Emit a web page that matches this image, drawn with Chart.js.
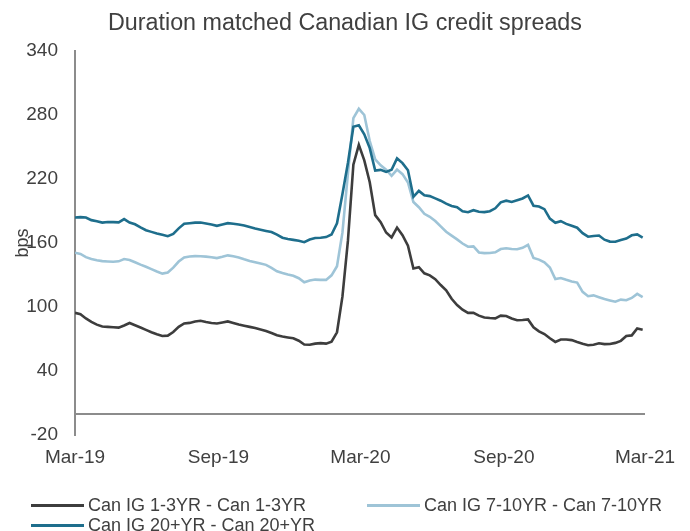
<!DOCTYPE html>
<html>
<head>
<meta charset="utf-8">
<script src="https://cdn.jsdelivr.net/npm/chart.js@4.4.1/dist/chart.umd.min.js"></script>
<style>
  html, body { margin: 0; padding: 0; background: #ffffff; }
  #wrap { position: relative; width: 690px; height: 531px; overflow: hidden; }
  #chart { position: absolute; left: 0; top: 0; }
  .leg { position: absolute; display: flex; align-items: center; font-family: "Liberation Sans", Arial, sans-serif; font-size: 18px; color: #404040; white-space: nowrap; line-height: 20px; }
  .leg .sw { display: inline-block; width: 53px; height: 3px; margin-right: 4px; }
</style>
</head>
<body>
<div id="wrap">
  <canvas id="chart" width="690" height="531"></canvas>
</div>
<script>
// ---- data (weekly observations starting Mar-2019) ----
const seriesNames = [
  "Can IG 1-3YR - Can 1-3YR",
  "Can IG 7-10YR - Can 7-10YR",
  "Can IG 20+YR - Can 20+YR"
];
const seriesColors = ["#3d3d3d", "#9ec4d7", "#1e6e8c"];

const short13 = [94.6,93.3,89.4,86.2,83.6,81.9,81.5,81.2,80.8,82.8,
  85.1,83,80.9,78.7,76.5,74.6,72.9,73.3,76.7,81.5,
  84.7,85.2,86.5,87.2,86,85.1,84.7,85.6,86.6,85.2,
  83.8,82.6,81.5,80.4,79.1,77.7,75.7,73.6,72.5,71.6,
  70.8,68.5,65,64.8,65.8,66.3,65.8,67.6,76.4,110,
  162,233.5,252,237.5,217,186.2,179.6,169.9,165.3,174.5,
  167.4,157.5,136.2,137.4,131.7,129.8,126.2,120.7,115.8,107.8,
  102,97.6,94.6,94.6,92,90.3,89.8,89.5,92,91.7,
  89.4,87.7,87.9,88.5,81.1,77.3,74.8,70.8,67.4,69.6,
  69.6,69.1,67.3,65.7,64.3,64.8,66.1,65.3,65.5,66.5,
  68.4,72.9,73.5,80,78.8];

const mid710 = [151,149.8,146.8,145.1,143.9,143.1,142.8,142.5,142.9,145,
  144.2,142,139.8,137.8,135.6,133.4,131.4,132.5,137,142.7,
  146.6,147.4,147.8,147.7,147.3,146.8,145.9,147.1,148.5,147.6,
  146.5,144.8,143.3,142,140.8,139.6,136.8,133.6,131.9,130.5,
  129.4,127.1,123.3,124.9,125.8,125.5,125.5,129.8,138.3,170,
  225,277,285.8,280,255.6,238.5,232.9,228.8,223,228.9,
  224.6,216.8,198.5,193.6,187.4,184.6,180.6,175.6,170.6,167,
  163.5,159.6,156.6,156.9,151.2,150.6,150.7,151.4,154.4,155.2,
  154.4,154.2,155.5,158.3,146,144.5,141.9,137.1,126.4,127.3,
  125.6,124.1,123,114.3,110.2,111,109.3,107.6,106.3,105.1,
  107,106.4,108.6,112.4,109.4];

const long20 = [184,184.3,184,181.5,180.5,179.2,179.8,179.6,179.4,182.5,
  179.3,177.6,174.7,172,170.5,169,167.8,166.5,168.5,173.8,
  178.1,178.6,179.2,179.2,178.4,177.5,176.2,177.4,178.7,178.1,
  177.4,176.5,175.1,173.6,172.5,171.4,170.3,167.9,165,163.9,
  163,162.2,160.8,163.3,164.8,165,165.6,168,178.5,206,
  235,269,270.3,262,249,228,228.6,226.7,228.7,239.3,
  234.9,228.2,203.3,208.9,204.7,204,201.9,199.7,196.9,194.7,
  193.5,189.7,188.9,190.8,189.4,189,189.9,192.6,198.2,199.7,
  198.5,200.1,201.8,204.6,195,194.2,191.8,183,179,180.5,
  178,176.2,174.4,169.3,166,166.7,167.1,163.2,161.4,161.2,
  162.9,164.2,167.3,168.1,165.2];

// day offsets from 1-Mar-2019 for each weekly observation
const obsDays = short13.map((_, i) => i * 7);

// x-axis tick labels and their day offsets
const xTickLabels = ["Mar-19", "Sep-19", "Mar-20", "Sep-20", "Mar-21"];
const xTickDays = [0, 184, 366, 550, 731];

// y-axis ticks
const yTickValues = [-20, 40, 100, 160, 220, 280, 340];

const toPoints = arr => arr.map((v, i) => ({ x: obsDays[i], y: v }));
const allSeries = [short13, mid710, long20];

const FONT = '"Liberation Sans", Arial, sans-serif';
const TXT = '#404040';
const AXIS = '#8c8c8c';

const chart = new Chart(document.getElementById('chart'), {
  type: 'line',
  data: {
    datasets: allSeries.map((s, k) => ({
      label: seriesNames[k],
      data: toPoints(s),
      borderColor: seriesColors[k],
      backgroundColor: seriesColors[k],
      borderWidth: 2.6,
      pointRadius: 0,
      tension: 0,
      fill: false,
      order: 2 - k
    }))
  },
  options: {
    responsive: false,
    animation: false,
    devicePixelRatio: 1,
    layout: { padding: { left: 0, right: 0, top: 0, bottom: 59 } },
    plugins: {
      legend: { display: false },
      tooltip: { enabled: false },
      title: {
        display: true,
        text: 'Duration matched Canadian IG credit spreads',
        color: TXT,
        font: { family: FONT, size: 23.3, weight: 'normal' },
        padding: { top: 10, bottom: 13 }
      }
    },
    scales: {
      x: {
        type: 'linear',
        min: 0,
        max: 731,
        afterBuildTicks: axis => { axis.ticks = xTickDays.map(v => ({ value: v })); },
        afterFit: axis => { axis.paddingRight = 45; axis.paddingLeft = 0; },
        ticks: {
          color: TXT,
          font: { family: FONT, size: 19 },
          padding: 3,
          maxRotation: 0,
          autoSkip: false,
          callback: v => { const i = xTickDays.indexOf(v); return i >= 0 ? xTickLabels[i] : ''; }
        },
        grid: { display: false },
        border: { display: false }
      },
      y: {
        min: -20,
        max: 340,
        afterBuildTicks: axis => {
          axis.ticks = yTickValues.concat([0]).sort((a, b) => a - b).map(v => ({ value: v }));
        },
        afterFit: axis => { axis.width = 75; },
        ticks: {
          color: TXT,
          font: { family: FONT, size: 19 },
          padding: 17,
          autoSkip: false,
          callback: v => (v === 0 ? '' : String(v))
        },
        grid: {
          drawTicks: false,
          color: ctx => (ctx.tick && ctx.tick.value === 0 ? AXIS : 'rgba(0,0,0,0)'),
          lineWidth: 2
        },
        border: { display: true, color: AXIS, width: 2 },
        title: {
          display: true,
          text: 'bps',
          color: TXT,
          font: { family: FONT, size: 18 },
          padding: { top: 12, bottom: 0 }
        }
      }
    }
  }
});

// HTML legend built from the chart's datasets
const legendPos = [
  { left: 31, top: 495 },
  { left: 367, top: 495 },
  { left: 31, top: 515 }
];
const wrap = document.getElementById('wrap');
chart.data.datasets.forEach((ds, k) => {
  const item = document.createElement('div');
  item.className = 'leg';
  item.style.left = legendPos[k].left + 'px';
  item.style.top = legendPos[k].top + 'px';
  const sw = document.createElement('span');
  sw.className = 'sw';
  sw.style.background = ds.borderColor;
  const tx = document.createElement('span');
  tx.textContent = ds.label;
  item.appendChild(sw);
  item.appendChild(tx);
  wrap.appendChild(item);
});
</script>
</body>
</html>
